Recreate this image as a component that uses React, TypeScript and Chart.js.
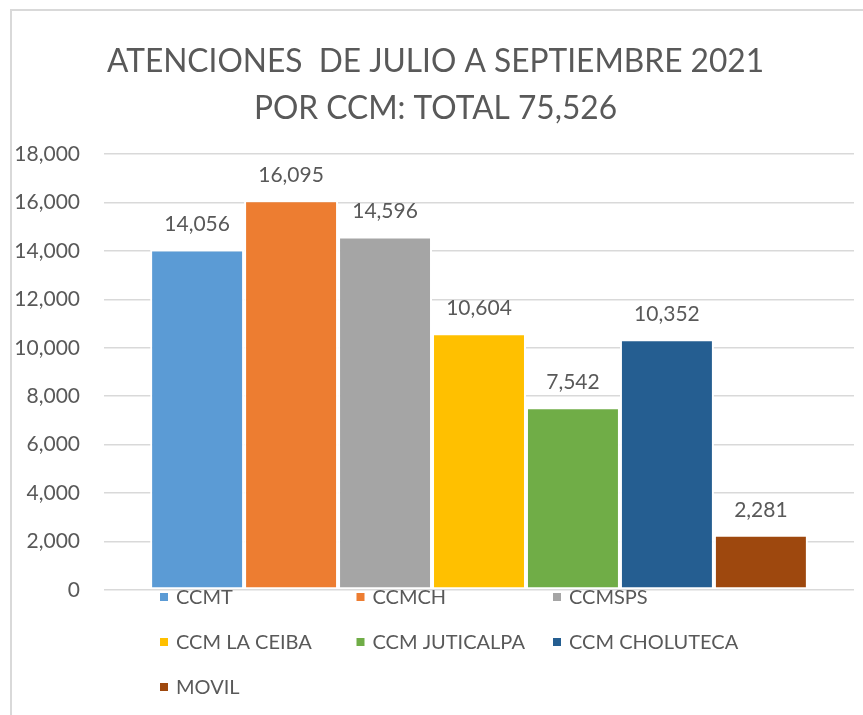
import { useEffect, useRef } from "react";
import { Chart, registerables } from "chart.js";

Chart.register(...registerables);

const titleLines = ["ATENCIONES  DE JULIO A SEPTIEMBRE 2021", "POR CCM: TOTAL 75,526"];
const centers = ["CCMT", "CCMCH", "CCMSPS", "CCM LA CEIBA", "CCM JUTICALPA", "CCM CHOLUTECA", "MOVIL"];
const attentions = [14056, 16095, 14596, 10604, 7542, 10352, 2281];
const barColors = ["#5B9BD5", "#ED7D31", "#A5A5A5", "#FFC000", "#70AD47", "#255E91", "#9E480E"];
const yMin = 0;
const yMax = 18000;
const yStep = 2000;

const TEXT = "#595959";
const FONT = "Lato";
const fmt = (v: number) => v.toLocaleString("en-US");

const titlePlugin = {
  id: "titleText",
  afterDraw(chart: any) {
    const ctx = chart.ctx;
    const cx = chart.width / 2 + 4;
    ctx.save();
    ctx.fillStyle = TEXT;
    ctx.font = `33px ${FONT}`;
    ctx.textAlign = "center";
    ctx.textBaseline = "alphabetic";
    [72, 119].forEach((y, i) => {
      ctx.save();
      ctx.translate(cx, y);
      ctx.scale(0.96, 1);
      ctx.fillText(titleLines[i], 0, 0);
      ctx.restore();
    });
    ctx.restore();
  },
};

const labelPlugin = {
  id: "valueLabels",
  afterDatasetsDraw(chart: any) {
    const ctx = chart.ctx;
    ctx.save();
    ctx.fillStyle = TEXT;
    ctx.font = `21px ${FONT}`;
    ctx.textAlign = "center";
    ctx.textBaseline = "middle";
    chart.data.datasets.forEach((ds: any, i: number) => {
      const meta = chart.getDatasetMeta(i);
      meta.data.forEach((el: any, j: number) => {
        ctx.fillText(fmt(ds.data[j]), el.x, el.y - 25);
      });
    });
    ctx.restore();
  },
};

const legendPlugin = {
  id: "gridLegend",
  afterDraw(chart: any) {
    const ctx = chart.ctx;
    const area = chart.chartArea;
    ctx.save();
    ctx.font = `20px ${FONT}`;
    ctx.textAlign = "left";
    ctx.textBaseline = "alphabetic";
    chart.data.datasets.forEach((ds: any, i: number) => {
      const col = i % 3;
      const row = Math.floor(i / 3);
      const bx = area.left + 56 + col * 196.5;
      const by = area.bottom + 3 + row * 45;
      ctx.fillStyle = ds.backgroundColor;
      ctx.fillRect(bx, by, 8, 8);
      ctx.fillStyle = TEXT;
      ctx.fillText(ds.label, bx + 16, area.bottom + 14 + row * 45);
    });
    ctx.restore();
  },
};

export default function App() {
  const ref = useRef<HTMLCanvasElement | null>(null);
  useEffect(() => {
    if (!ref.current) return;
    const chart = new Chart(ref.current, {
      type: "bar",
      data: {
        labels: [""],
        datasets: centers.map((c, i) => ({
          label: c,
          data: [attentions[i]],
          backgroundColor: barColors[i],
          borderColor: "#ffffff",
          borderWidth: 2,
          borderSkipped: false,
          categoryPercentage: 0.877,
          barPercentage: 1,
        })),
      },
      options: {
        animation: false,
        responsive: false,
        devicePixelRatio: 1,
        locale: "en-US",
        layout: { padding: { top: 154, right: 9, bottom: 125, left: 0 } },
        plugins: { legend: { display: false }, tooltip: { enabled: false }, title: { display: false } },
        scales: {
          x: { display: false },
          y: {
            min: yMin,
            max: yMax,
            afterFit: (s: any) => {
              s.width = 104;
            },
            ticks: {
              stepSize: yStep,
              padding: 24,
              color: TEXT,
              font: { family: FONT, size: 21 },
              callback: (v: any) => fmt(Number(v)),
            },
            grid: { color: "#d9d9d9", lineWidth: 1.5, drawTicks: false },
            border: { display: false },
          },
        },
      },
      plugins: [titlePlugin, labelPlugin, legendPlugin],
    });
    return () => chart.destroy();
  }, []);
  return (
    <div style={{ position: "fixed", left: 0, top: 0, width: 863, height: 715, overflow: "hidden", background: "#fff" }}>
      <div
        style={{
          position: "absolute",
          left: 10,
          top: 9,
          width: 900,
          height: 800,
          borderLeft: "2px solid #d9d9d9",
          borderTop: "2px solid #d9d9d9",
        }}
      />
      <canvas ref={ref} width={863} height={715} style={{ position: "absolute", left: 0, top: 0 }} />
    </div>
  );
}
